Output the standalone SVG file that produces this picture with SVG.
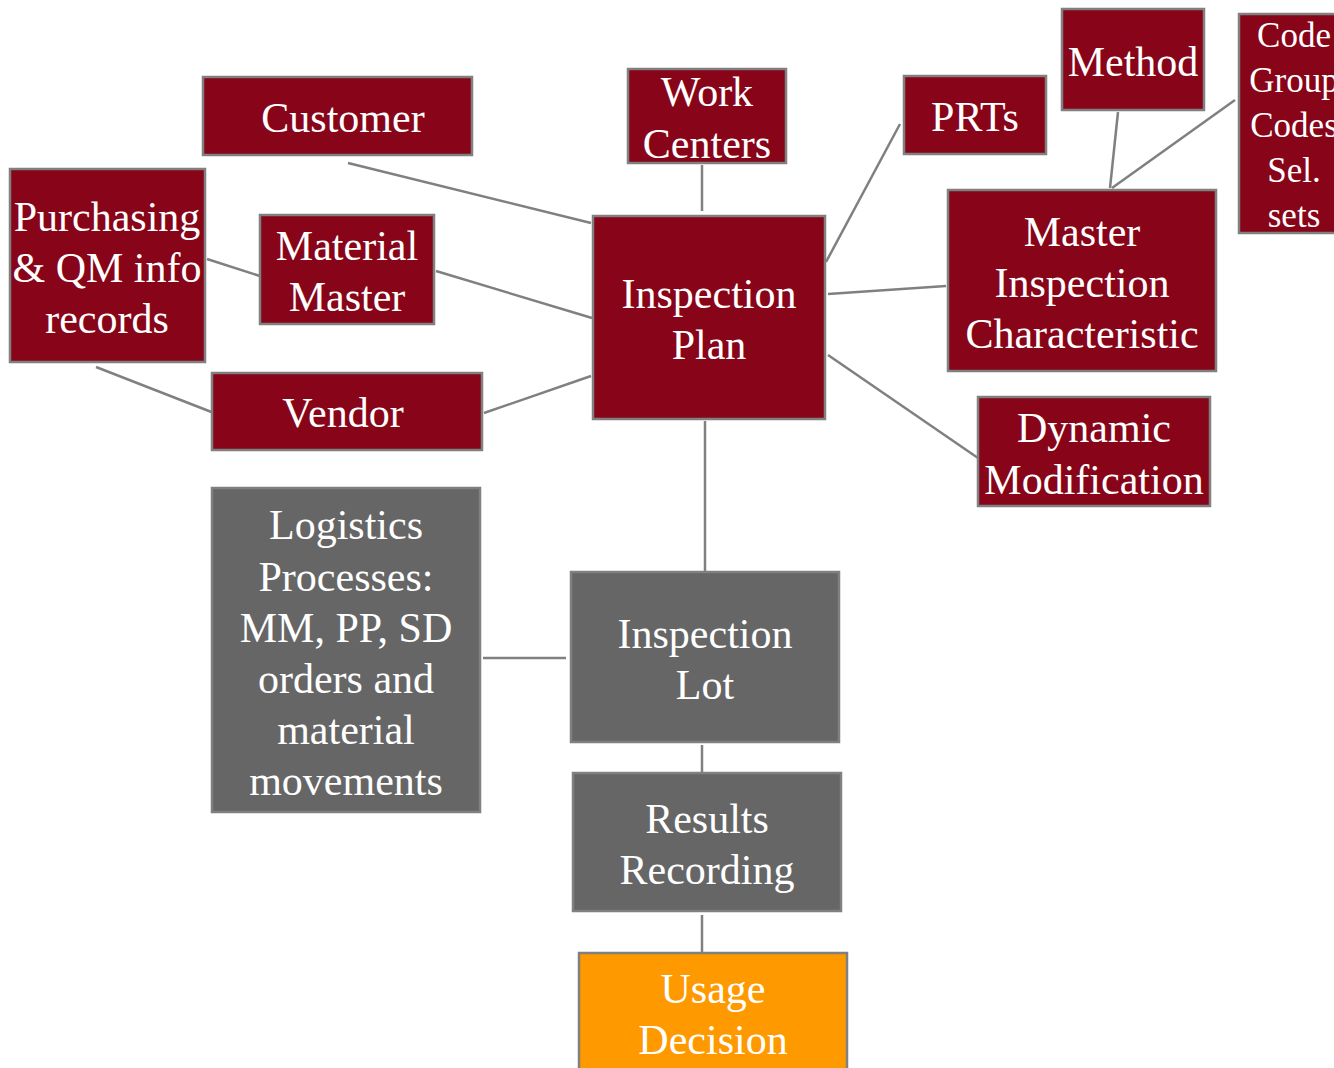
<svg xmlns="http://www.w3.org/2000/svg" width="1334" height="1068" viewBox="0 0 1334 1068">
<style>
.r,.g,.o{stroke:#808080;stroke-width:2.5}
.r{fill:#880519}
.g{fill:#666666}
.o{fill:#FF9900}
text{font-family:"Liberation Serif","Times New Roman",serif;font-size:42px;fill:#ffffff;text-anchor:middle}
.s{font-size:35px}
#connectors line{stroke:#808080;stroke-width:2.5}
</style>
<rect x="0" y="0" width="1334" height="1068" fill="#ffffff"/>
<g id="connectors">
<line x1="348" y1="163" x2="591" y2="223"/>
<line x1="702" y1="165" x2="702" y2="211"/>
<line x1="900" y1="124" x2="826" y2="262"/>
<line x1="1118" y1="112" x2="1110" y2="188"/>
<line x1="1235" y1="100" x2="1112" y2="188"/>
<line x1="828" y1="294" x2="946" y2="286"/>
<line x1="828" y1="355" x2="978" y2="458"/>
<line x1="436" y1="271" x2="592" y2="318"/>
<line x1="207" y1="259" x2="260" y2="276"/>
<line x1="484" y1="413" x2="591" y2="376"/>
<line x1="96" y1="367" x2="214" y2="413"/>
<line x1="705" y1="421" x2="705" y2="572"/>
<line x1="483" y1="658" x2="566" y2="658"/>
<line x1="702" y1="745" x2="702" y2="772"/>
<line x1="702" y1="915" x2="702" y2="952"/>
</g>
<g id="customer"><rect class="r" x="203" y="77" width="269" height="78"/><text x="343" y="132">Customer</text></g>
<g id="work-centers"><rect class="r" x="628" y="69" width="158" height="94"/><text x="707" y="106">Work</text><text x="707" y="158">Centers</text></g>
<g id="prts"><rect class="r" x="904" y="76" width="142" height="78"/><text x="975" y="131">PRTs</text></g>
<g id="method"><rect class="r" x="1062" y="9" width="142" height="101"/><text x="1133" y="76">Method</text></g>
<g id="codes"><rect class="r" x="1239" y="14" width="110" height="219"/><text class="s" x="1294" y="47">Code</text><text class="s" x="1294" y="92">Group</text><text class="s" x="1294" y="137">Codes</text><text class="s" x="1294" y="182">Sel.</text><text class="s" x="1294" y="227">sets</text></g>
<g id="purchasing"><rect class="r" x="10" y="169" width="195" height="193"/><text x="107" y="231">Purchasing</text><text x="107" y="282">&amp; QM info</text><text x="107" y="333">records</text></g>
<g id="material-master"><rect class="r" x="260" y="215" width="174" height="109"/><text x="347" y="260">Material</text><text x="347" y="311">Master</text></g>
<g id="inspection-plan"><rect class="r" x="593" y="216" width="232" height="203"/><text x="709" y="308">Inspection</text><text x="709" y="359">Plan</text></g>
<g id="mic"><rect class="r" x="948" y="190" width="268" height="181"/><text x="1082" y="246">Master</text><text x="1082" y="297">Inspection</text><text x="1082" y="348">Characteristic</text></g>
<g id="vendor"><rect class="r" x="212" y="373" width="270" height="77"/><text x="343" y="427">Vendor</text></g>
<g id="dynamic-modification"><rect class="r" x="978" y="397" width="232" height="109"/><text x="1094" y="442">Dynamic</text><text x="1094" y="494">Modification</text></g>
<g id="logistics"><rect class="g" x="212" y="488" width="268" height="324"/><text x="346" y="539">Logistics</text><text x="346" y="591">Processes:</text><text x="346" y="642">MM, PP, SD</text><text x="346" y="693">orders and</text><text x="346" y="744">material</text><text x="346" y="795">movements</text></g>
<g id="inspection-lot"><rect class="g" x="571" y="572" width="268" height="170"/><text x="705" y="648">Inspection</text><text x="705" y="699">Lot</text></g>
<g id="results-recording"><rect class="g" x="573" y="773" width="268" height="138"/><text x="707" y="833">Results</text><text x="707" y="884">Recording</text></g>
<g id="usage-decision"><rect class="o" x="579" y="953" width="268" height="125"/><text x="713" y="1003">Usage</text><text x="713" y="1054">Decision</text></g>
</svg>
